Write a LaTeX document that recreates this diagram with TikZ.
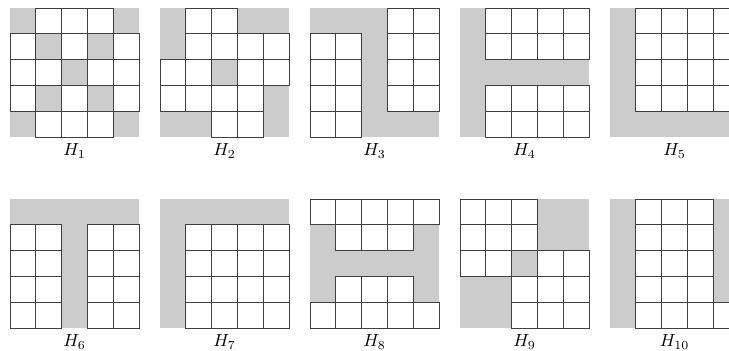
\documentclass[tikz,border=0pt]{standalone}
\definecolor{cellgrey}{HTML}{CCCCCC}
\tikzset{
  greycell/.style={fill=cellgrey},
  gridline/.style={draw=black!75, line width=0.42pt},
  lab/.style={inner sep=0pt, anchor=center}
}
\def\cs{25.8}
\newcommand\hgrid[5]{%
  \begin{scope}[shift={(#2,#3)}]
    \foreach \r/\c in {#4} {
      \fill[greycell] (\c*\cs,\r*\cs) rectangle ++(\cs,\cs);
      \expandafter\gdef\csname g#1-\r-\c\endcsname{x}
    }
    \foreach \r in {0,...,4} {
      \foreach \c in {0,...,4} {
        \ifcsname g#1-\r-\c\endcsname\else
          \draw[gridline] (\c*\cs,\r*\cs) rectangle ++(\cs,\cs);
        \fi
      }
    }
    \node[lab] (#1) at (64.5,143) {$H_{#5}$};
  \end{scope}}
\begin{document}
\begin{tikzpicture}[x=0.57pt,y=-0.57pt]
\useasboundingbox (0,0) rectangle (729,350);
\hgrid{ha}{10}{8}{0/0,0/4,1/1,1/3,2/2,3/1,3/3,4/0,4/4}{1}
\hgrid{hb}{160}{8}{0/0,1/0,0/3,0/4,2/2,3/4,4/4,4/0,4/1}{2}
\hgrid{hc}{310}{8}{0/0,0/1,0/2,1/2,2/2,3/2,4/2,4/3,4/4}{3}
\hgrid{hd}{460}{8}{0/0,1/0,2/0,3/0,4/0,2/1,2/2,2/3,2/4}{4}
\hgrid{he}{610}{8}{0/0,1/0,2/0,3/0,4/0,4/1,4/2,4/3,4/4}{5}
\hgrid{hf}{10}{199}{0/0,0/1,0/2,0/3,0/4,1/2,2/2,3/2,4/2}{6}
\hgrid{hg}{160}{199}{0/0,0/1,0/2,0/3,0/4,1/0,2/0,3/0,4/0}{7}
\hgrid{hh}{310}{199}{1/0,2/0,3/0,1/4,2/4,3/4,2/1,2/2,2/3}{8}
\hgrid{hi}{460}{199}{0/3,0/4,1/3,1/4,2/2,3/0,3/1,4/0,4/1}{9}
\hgrid{hj}{610}{199}{0/0,1/0,2/0,3/0,4/0,0/4,1/4,2/4,3/4}{10}
\end{tikzpicture}
\end{document}
